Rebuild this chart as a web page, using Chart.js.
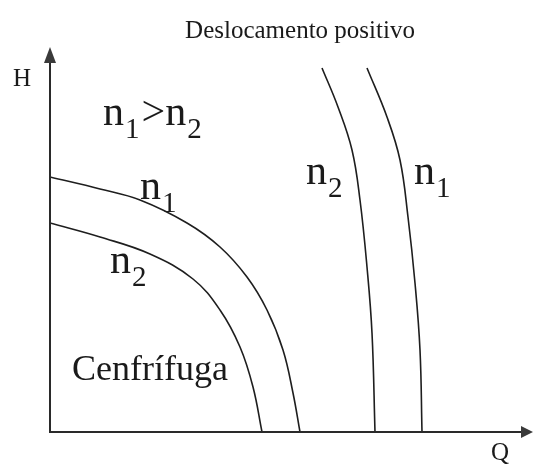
<!DOCTYPE html>
<html>
<head>
<meta charset="utf-8">
<script src="https://cdn.jsdelivr.net/npm/chart.js@4/dist/chart.umd.min.js"></script>
<style>
  html, body { margin: 0; padding: 0; background: #fff; }
</style>
</head>
<body>
<canvas id="pumpChart" width="534" height="464"></canvas>
<script>
const centN1Q = [0, 50, 90, 137, 170, 197, 217, 233, 243, 250];
const centN1H = [255, 243, 232, 209, 185, 155, 122, 82, 39, 0];
const centN2Q = [0, 50, 100, 143, 170, 190, 203, 212];
const centN2H = [209, 195, 178, 153, 122, 85, 45, 0];
const posN2Q = [272, 288, 302, 310, 317, 322, 325];
const posN2H = [364, 325, 282, 232, 165, 99, 0];
const posN1Q = [317, 337, 350, 358, 365, 370, 372];
const posN1H = [364, 315, 272, 215, 149, 82, 0];

const titleText = "Deslocamento positivo";
const axisTitleY = "H";
const axisTitleX = "Q";

// rótulos: texto com "_" para subscrito, ancorados em (q, h)
const notes = [
  { text: "n_1>n_2", q: 53, h: 307 },
  { text: "n_1", q: 90, h: 233 },
  { text: "n_2", q: 60, h: 159 },
  { text: "Cenfrífuga", q: 22, h: 52 },
  { text: "n_2", q: 256, h: 248 },
  { text: "n_1", q: 364, h: 248 }
];

function toPoints(qs, hs) {
  return qs.map((q, i) => ({ x: q, y: hs[i] }));
}

function curve(data) {
  return {
    data,
    showLine: true,
    borderColor: "#1e1e1e",
    borderWidth: 1.6,
    pointRadius: 0,
    tension: 0.4,
    fill: false
  };
}

const FONT = "'Liberation Serif', 'Times New Roman', serif";

function drawRich(ctx, text, x, y, size) {
  const parts = text.split(/(_\S)/).filter(s => s.length);
  let cx = x;
  for (const p of parts) {
    if (p[0] === "_") {
      const s = Math.round(size * 0.68);
      ctx.font = s + "px " + FONT;
      ctx.fillText(p[1], cx + 1, y + size * 0.3);
      cx += ctx.measureText(p[1]).width + 3;
    } else {
      ctx.font = size + "px " + FONT;
      ctx.fillText(p, cx, y);
      cx += ctx.measureText(p).width;
    }
  }
}

const sketchPlugin = {
  id: "sketch",
  afterDatasetsDraw(chart) {
    const ctx = chart.ctx;
    const { left, bottom, top, right } = chart.chartArea;
    const xs = chart.scales.x, ys = chart.scales.y;
    ctx.save();

    // eixos
    ctx.strokeStyle = "#2a2a2a";
    ctx.lineWidth = 2;
    ctx.beginPath();
    ctx.moveTo(left, top + 14);
    ctx.lineTo(left, bottom);
    ctx.lineTo(right - 2, bottom);
    ctx.stroke();

    ctx.fillStyle = "#3a3a3a";
    ctx.beginPath();
    ctx.moveTo(left, top);
    ctx.lineTo(left - 6, top + 16);
    ctx.lineTo(left + 6, top + 16);
    ctx.closePath();
    ctx.fill();
    ctx.beginPath();
    ctx.moveTo(right + 8, bottom);
    ctx.lineTo(right - 4, bottom - 6);
    ctx.lineTo(right - 4, bottom + 6);
    ctx.closePath();
    ctx.fill();

    ctx.fillStyle = "#1a1a1a";
    ctx.textBaseline = "alphabetic";
    ctx.textAlign = "center";
    ctx.font = "25px " + FONT;
    ctx.fillText(titleText, 300, 38);

    ctx.textAlign = "left";
    ctx.font = "25px " + FONT;
    ctx.fillText(axisTitleY, left - 37, top + 39);
    ctx.fillText(axisTitleX, right - 34, bottom + 28);

    for (const n of notes) {
      const px = xs.getPixelForValue(n.q);
      const py = ys.getPixelForValue(n.h);
      const size = n.text.startsWith("C") ? 36 : 42;
      drawRich(ctx, n.text, px, py, size);
    }
    ctx.restore();
  }
};

new Chart(document.getElementById("pumpChart"), {
  type: "scatter",
  data: {
    datasets: [
      curve(toPoints(centN1Q, centN1H)),
      curve(toPoints(centN2Q, centN2H)),
      curve(toPoints(posN2Q, posN2H)),
      curve(toPoints(posN1Q, posN1H))
    ]
  },
  options: {
    responsive: false,
    animation: false,
    layout: { padding: { left: 50, right: 9, top: 47, bottom: 32 } },
    plugins: {
      legend: { display: false },
      tooltip: { enabled: false },
      title: { display: false }
    },
    scales: {
      x: { type: "linear", min: 0, max: 475, display: false },
      y: { type: "linear", min: 0, max: 385, display: false }
    }
  },
  plugins: [sketchPlugin]
});
</script>
</body>
</html>
